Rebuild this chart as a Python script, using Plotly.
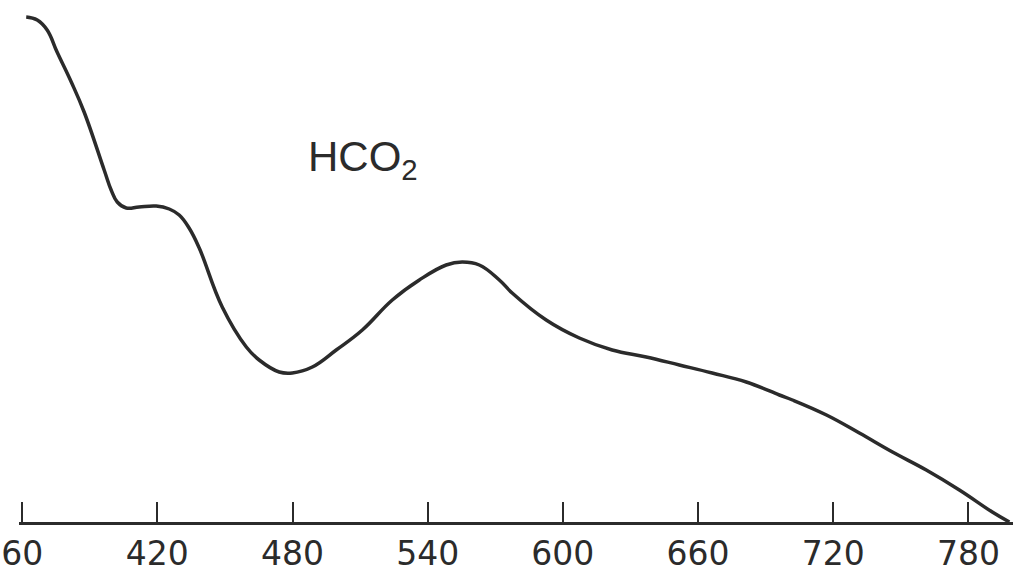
import plotly.graph_objects as go

# Absorption spectrum of HCO2 (relative absorbance vs wavelength, nm)
wavelength = [361.8, 366.7, 371.1, 375.5, 381.8, 387.5, 396.4, 399.5, 402.2,
              406.2, 411.9, 419.5, 425.3, 429.7, 434.1, 438.6, 448.8, 459.5, 465.2,
              474.1, 479.9, 488.8, 499.4, 511.0, 524.3, 536.3, 548.2, 555.3, 562.9,
              571.8, 577.5, 592.6, 607.3, 621.9, 637.0, 651.7, 666.3, 681.4, 696.1,
              701.9, 717.0, 731.6, 746.3, 761.3, 776.0, 790.6, 798.2]
absorbance = [1.010, 1.004, 0.984, 0.940, 0.880, 0.820, 0.704, 0.664, 0.640,
              0.628, 0.630, 0.632, 0.626, 0.614, 0.588, 0.548, 0.430, 0.350, 0.324,
              0.300, 0.298, 0.310, 0.344, 0.384, 0.444, 0.484, 0.514, 0.520, 0.514,
              0.484, 0.458, 0.404, 0.368, 0.344, 0.330, 0.314, 0.298, 0.280, 0.254,
              0.244, 0.214, 0.178, 0.140, 0.104, 0.064, 0.020, 0.0]

tick_values = [360, 420, 480, 540, 600, 660, 720, 780]
tick_labels = ["60", "420", "480", "540", "600", "660", "720", "780"]

ink = "#2b2b2b"

fig = go.Figure()
fig.add_trace(go.Scatter(
    x=wavelength, y=absorbance, mode="lines",
    line=dict(color=ink, width=3.5, shape="spline", smoothing=1.2),
    hoverinfo="skip", showlegend=False,
))

fig.add_annotation(
    x=486.1, y=0.726, xref="x", yref="y",
    text="HCO<sub>2</sub>", showarrow=False,
    xanchor="left", yanchor="middle",
    font=dict(family="Liberation Sans Narrow, Liberation Sans, sans-serif", size=42, color=ink),
)

fig.update_xaxes(
    range=[358.6, 799.8], automargin=False,
    tickmode="array", tickvals=tick_values, ticktext=tick_labels,
    ticks="inside", ticklen=20, tickwidth=2, tickcolor=ink,
    showline=True, linecolor=ink, linewidth=3,
    showgrid=False, zeroline=False,
    ticklabeloverflow="allow",
    tickfont=dict(family="DejaVu Sans", size=33, color=ink),
)
fig.update_yaxes(range=[0, 1.044], visible=False, showgrid=False, zeroline=False,
                 automargin=False)

fig.update_layout(
    width=1021, height=581,
    margin=dict(l=19, r=8, t=0, b=59),
    paper_bgcolor="white", plot_bgcolor="white",
)

fig.write_html("out.html")
